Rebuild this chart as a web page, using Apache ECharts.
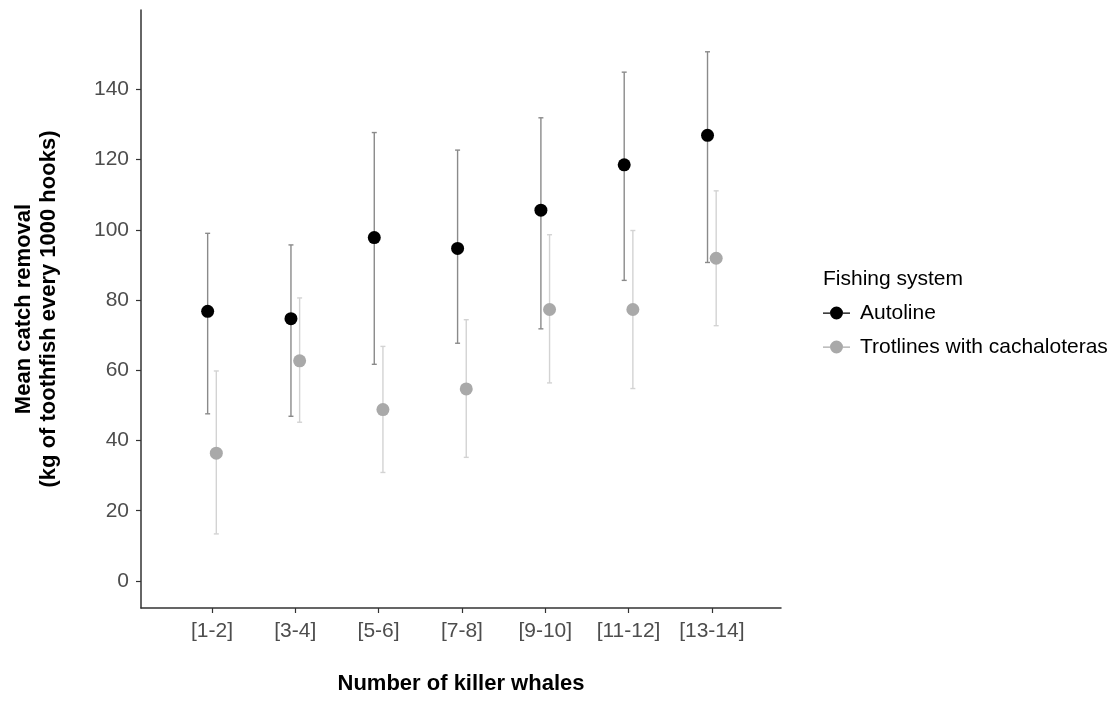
<!DOCTYPE html>
<html>
<head>
<meta charset="utf-8">
<script src="https://cdn.jsdelivr.net/npm/echarts@6/dist/echarts.min.js"></script>
<style>html,body{margin:0;padding:0;background:#fff;}#c{width:1115px;height:702px;}</style>
</head>
<body>
<div id="c"></div>
<script>
var categories = ['[1-2]', '[3-4]', '[5-6]', '[7-8]', '[9-10]', '[11-12]', '[13-14]'];
var autolineMean = [76.8, 74.7, 97.8, 94.7, 105.6, 118.5, 126.9];
var autolineLow  = [47.6, 46.9, 61.7, 67.7, 71.8, 85.6, 90.7];
var autolineHigh = [99.0, 95.7, 127.7, 122.7, 131.9, 144.9, 150.7];
var trotMean = [36.4, 62.7, 48.8, 54.7, 77.3, 77.3, 91.9];
var trotLow  = [13.4, 45.2, 30.9, 35.2, 56.4, 54.8, 72.7];
var trotHigh = [59.8, 80.6, 66.8, 74.4, 98.6, 99.8, 111.1];
var yTicks = [0, 20, 40, 60, 80, 100, 120, 140];
var seriesNames = ['Autoline', 'Trotlines with cachaloteras'];

var dodge = 0.052;
var font = 'Liberation Sans, Arial, sans-serif';
var xTickVals = categories.map(function (c, i) { return i; });

function pts(mean, off) { return mean.map(function (v, i) { return [i + off, v]; }); }
function bars(lo, hi, off) { return lo.map(function (v, i) { return [i + off, v, hi[i]]; }); }

function errRender(color, width) {
  return function (params, api) {
    var x = api.value(0);
    var p1 = api.coord([x, api.value(1)]);
    var p2 = api.coord([x, api.value(2)]);
    var cw = 2.5;
    var st = { stroke: color, lineWidth: width };
    return {
      type: 'group',
      children: [
        { type: 'line', shape: { x1: p1[0], y1: p1[1], x2: p2[0], y2: p2[1] }, style: st },
        { type: 'line', shape: { x1: p1[0] - cw, y1: p1[1], x2: p1[0] + cw, y2: p1[1] }, style: st },
        { type: 'line', shape: { x1: p2[0] - cw, y1: p2[1], x2: p2[0] + cw, y2: p2[1] }, style: st }
      ]
    };
  };
}

var icon = 'path://M0,6h7v1.2h-7z M20,6h7v1.2h-7z M7,6.5a6.5,6.5 0 1,1 13,0a6.5,6.5 0 1,1 -13,0z';

var chart = echarts.init(document.getElementById('c'), null, { renderer: 'canvas' });
chart.setOption({
  animation: false,
  backgroundColor: '#fff',
  textStyle: { fontFamily: font },
  title: {
    text: 'Fishing system', left: 818, top: 264,
    textStyle: { fontFamily: font, fontSize: 21, fontWeight: 'normal', color: '#000' }
  },
  legend: {
    orient: 'vertical', left: 818, top: 297, itemGap: 12,
    itemWidth: 27, itemHeight: 13,
    textStyle: { fontFamily: font, fontSize: 21, color: '#000', lineHeight: 22, padding: [0, 0, 0, 5] },
    data: [
      { name: seriesNames[0], icon: icon, itemStyle: { color: '#000' } },
      { name: seriesNames[1], icon: icon, itemStyle: { color: '#A9A9A9' } }
    ]
  },
  grid: { left: 141, right: 334, top: 10, bottom: 90 },
  xAxis: {
    type: 'value', min: -0.852, max: 6.83,
    name: 'Number of killer whales', nameLocation: 'middle', nameGap: 63,
    nameTextStyle: { fontFamily: font, fontSize: 22, fontWeight: 'bold', color: '#000', lineHeight: 26 },
    axisLine: { show: true, onZero: false, lineStyle: { color: '#333', width: 1.5 } },
    axisTick: { show: true, length: 5, lineStyle: { color: '#333', width: 1.2 }, customValues: xTickVals },
    axisLabel: {
      fontFamily: font, fontSize: 21, color: '#4D4D4D', margin: 13, customValues: xTickVals,
      formatter: function (v) { return categories[Math.round(v)]; }
    },
    splitLine: { show: false }
  },
  yAxis: {
    type: 'value', min: -7.7, max: 162.6,
    name: 'Mean catch removal\n(kg of toothfish every 1000 hooks)', nameLocation: 'middle', nameGap: 80,
    nameTextStyle: { fontFamily: font, fontSize: 22, fontWeight: 'bold', color: '#000', lineHeight: 25 },
    axisLine: { show: true, onZero: false, lineStyle: { color: '#333', width: 1.5 } },
    axisTick: { show: true, length: 5, lineStyle: { color: '#333', width: 1.2 }, customValues: yTicks },
    axisLabel: { fontFamily: font, fontSize: 21, color: '#4D4D4D', margin: 12, customValues: yTicks },
    splitLine: { show: false }
  },
  series: [
    {
      name: 'autoline-err', type: 'custom', renderItem: errRender('#8a8a8a', 1.4),
      data: bars(autolineLow, autolineHigh, -dodge), encode: { x: 0, y: [1, 2] }, z: 2, silent: true
    },
    {
      name: 'trot-err', type: 'custom', renderItem: errRender('#d3d3d3', 1.4),
      data: bars(trotLow, trotHigh, dodge), encode: { x: 0, y: [1, 2] }, z: 2, silent: true
    },
    {
      name: seriesNames[0], type: 'scatter', symbol: 'circle', symbolSize: 13,
      itemStyle: { color: '#000', opacity: 1 }, data: pts(autolineMean, -dodge), z: 3
    },
    {
      name: seriesNames[1], type: 'scatter', symbol: 'circle', symbolSize: 13,
      itemStyle: { color: '#A9A9A9', opacity: 1 }, data: pts(trotMean, dodge), z: 3
    }
  ]
});
</script>
</body>
</html>
